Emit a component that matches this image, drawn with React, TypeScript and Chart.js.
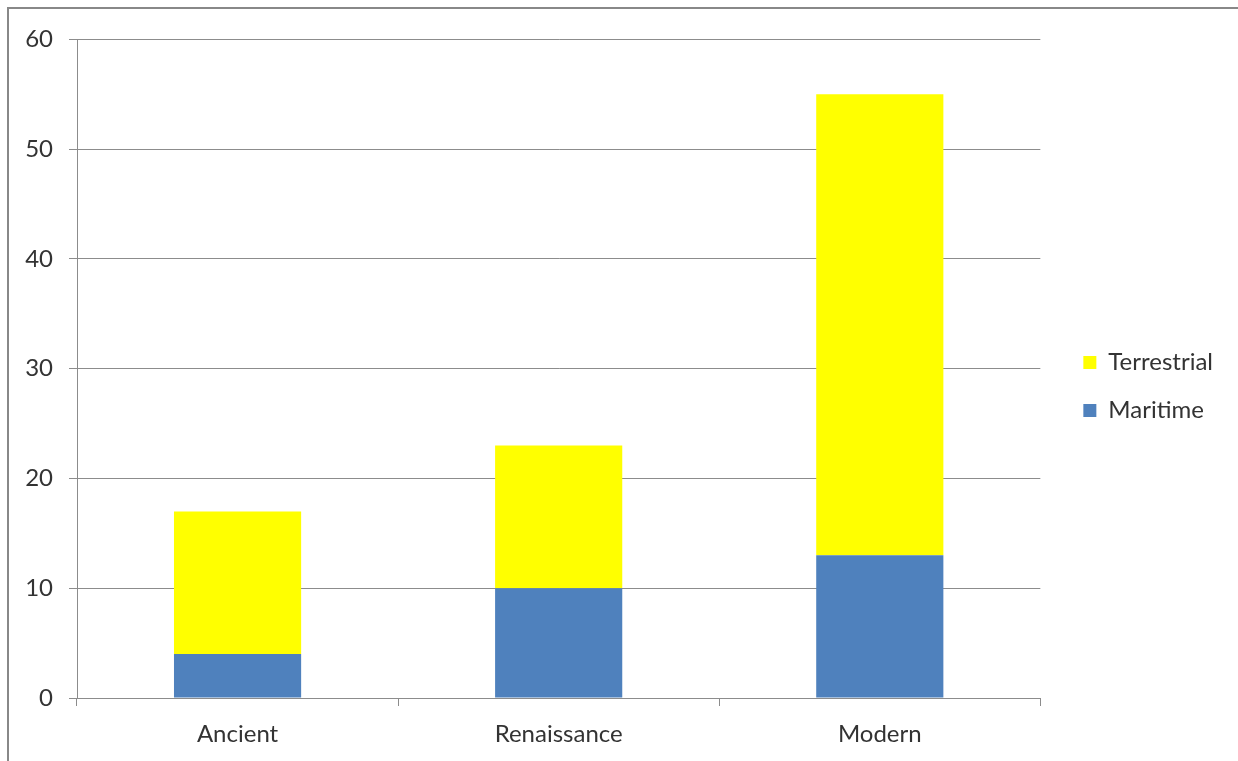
import React, { useEffect, useRef } from "react";
import { Chart, registerables } from "chart.js";

Chart.register(...registerables);

const categories = ["Ancient", "Renaissance", "Modern"];
const maritime = [4, 10, 13];
const terrestrial = [13, 13, 42];
const yTicks = [0, 10, 20, 30, 40, 50, 60];

const FONT = "Lato";
const TEXT = "#333333";
const GRID = "#8c8c8c";

const legendShift = {
  id: "legendShift",
  beforeDraw(chart: any) {
    const lg = chart.legend;
    if (!lg || lg._shifted) return;
    const dx = 19;
    const dy = -13;
    lg.left += dx;
    lg.right += dx;
    lg.top += dy;
    lg.bottom += dy;
    lg._shifted = true;
  },
  afterUpdate(chart: any) {
    if (chart.legend) chart.legend._shifted = false;
  },
};

export default function App() {
  const ref = useRef<HTMLCanvasElement | null>(null);

  useEffect(() => {
    if (!ref.current) return;
    const chart = new Chart(ref.current, {
      type: "bar",
      data: {
        labels: categories,
        datasets: [
          {
            label: "Maritime",
            data: maritime,
            backgroundColor: "#4F81BD",
            borderWidth: 0,
            categoryPercentage: 1,
            barPercentage: 0.396,
          },
          {
            label: "Terrestrial",
            data: terrestrial,
            backgroundColor: "#FFFF00",
            borderWidth: 0,
            categoryPercentage: 1,
            barPercentage: 0.396,
          },
        ],
      },
      plugins: [legendShift],
      options: {
        animation: false,
        responsive: false,
        maintainAspectRatio: false,
        layout: { padding: { top: 29, right: 34, left: 0, bottom: 0 } },
        plugins: {
          tooltip: { enabled: false },
          legend: {
            position: "right",
            reverse: true,
            labels: {
              boxWidth: 13,
              boxHeight: 13,
              padding: 24,
              color: TEXT,
              font: { family: FONT, size: 24 },
            },
          },
        },
        scales: {
          x: {
            stacked: true,
            grid: {
              display: true,
              drawOnChartArea: false,
              drawTicks: true,
              tickLength: 8,
              color: GRID,
              offset: true,
            },
            border: { display: true, color: GRID, width: 1 },
            ticks: {
              color: TEXT,
              font: { family: FONT, size: 24 },
              padding: 14,
            },
            afterFit: (s: any) => {
              s.height = 63;
            },
          },
          y: {
            stacked: true,
            min: 0,
            max: 60,
            afterBuildTicks: (s: any) => {
              s.ticks = yTicks.map((v) => ({ value: v }));
            },
            grid: {
              color: GRID,
              tickLength: 8,
              drawTicks: true,
            },
            border: { display: true, color: GRID, width: 1 },
            ticks: {
              color: TEXT,
              font: { family: FONT, size: 24 },
              padding: 16,
            },
            afterFit: (s: any) => {
              s.width = 68;
            },
          },
        },
      },
    });
    return () => chart.destroy();
  }, []);

  return (
    <div
      style={{
        position: "fixed",
        left: 7,
        top: 7,
        width: 1231,
        height: 754,
        borderLeft: "2px solid #888888",
        borderTop: "2px solid #888888",
        background: "#ffffff",
      }}
    >
      <canvas ref={ref} width={1229} height={752} style={{ display: "block" }} />
    </div>
  );
}
